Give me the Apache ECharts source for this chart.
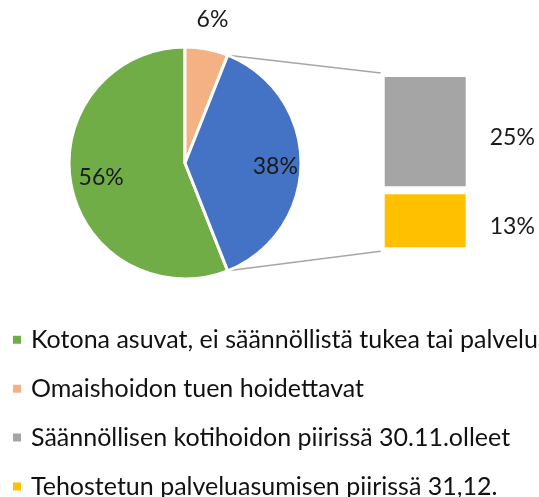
<!DOCTYPE html>
<html>
<head>
<meta charset="utf-8">
<script src="https://cdn.jsdelivr.net/npm/echarts@6/dist/echarts.min.js"></script>
<style>
  html, body { margin: 0; padding: 0; background: #fff; }
  #chart { width: 539px; height: 497px; }
</style>
</head>
<body>
<div id="chart"></div>
<script>
// pie part (the last slice is split into the bar)
const pieNames = ['Kotona asuvat, ei säännöllistä tukea tai palvelua', 'Omaishoidon tuen hoidettavat', 'Muut'];
const pieValues = [56, 6, 38];
const pieColors = ['#70ad47', '#f4b183', '#4472c4'];

// bar part, bottom to top
const barNames = ['Tehostetun palveluasumisen piirissä 31,12.', 'Säännöllisen kotihoidon piirissä 30.11.olleet'];
const barValues = [13, 25];
const barColors = ['#ffc000', '#a5a5a5'];

const legendNames = [pieNames[0], pieNames[1], barNames[1], barNames[0]];

const FONT = 'Lato, "Open Sans", sans-serif';
const cx = 185, cy = 163, radius = 116;
const gridLeft = 380.7, gridTop = 73, gridWidth = 89, gridHeight = 178.3;

const total = pieValues.reduce((a, b) => a + b, 0);
const deg = v => v / total * 360;
// Excel puts the split slice centred on the right side
const blueStart = 90 - deg(pieValues[2]) / 2;
const greenStart = blueStart - deg(pieValues[0] + pieValues[1]);
const startAngle = 90 - greenStart;

// how far out each pie label sits, relative to the default inside spot
const labelPush = [1.40, 2.40, 1.48];
const labelDrop = [-1, 0, 4];

const chart = echarts.init(document.getElementById('chart'));

const barMax = barValues.reduce((a, b) => a + b, 0);

chart.setOption({
  animation: false,
  textStyle: { fontFamily: FONT },
  legend: {
    orient: 'vertical',
    left: 11,
    bottom: -2,
    padding: 0,
    itemWidth: 10,
    itemHeight: 10,
    itemGap: 23.9,
    icon: 'rect',
    data: legendNames,
    textStyle: {
      fontFamily: FONT,
      fontSize: 25,
      lineHeight: 22,
      color: '#111',
      padding: [0, 0, 0, 4]
    }
  },
  grid: {
    left: gridLeft,
    top: gridTop,
    width: gridWidth,
    height: gridHeight
  },
  xAxis: {
    type: 'category',
    data: [''],
    show: false
  },
  yAxis: {
    type: 'value',
    min: 0,
    max: barMax,
    show: false
  },
  series: [
    {
      type: 'pie',
      center: [cx, cy],
      radius: [0, radius],
      startAngle: startAngle,
      clockwise: true,
      silent: true,
      data: pieNames.map((n, i) => ({
        name: n,
        value: pieValues[i],
        itemStyle: { color: pieColors[i] }
      })),
      itemStyle: { borderColor: '#fff', borderWidth: 3 },
      label: {
        show: true,
        position: 'inside',
        formatter: p => p.value + '%',
        fontFamily: FONT,
        fontSize: 23,
        color: '#1a1a1a'
      },
      labelLine: { show: false },
      labelLayout: function (params) {
        const r = params.labelRect;
        const lx = r.x + r.width / 2;
        const ly = r.y + r.height / 2;
        const k = labelPush[params.dataIndex];
        return {
          x: cx + (lx - cx) * k,
          y: cy + (ly - cy) * k + labelDrop[params.dataIndex],
          align: 'center',
          verticalAlign: 'middle'
        };
      }
    }
  ].concat(barNames.map((n, i) => ({
    type: 'bar',
    name: n,
    stack: 'muut',
    barWidth: '100%',
    silent: true,
    data: [barValues[i]],
    itemStyle: { color: barColors[i], borderColor: '#fff', borderWidth: 4 },
    label: {
      show: true,
      position: 'right',
      distance: 20,
      offset: [0, 6],
      formatter: p => p.value + '%',
      fontFamily: FONT,
      fontSize: 23,
      color: '#1a1a1a'
    }
  })))
});

// connector lines from the split slice to the bar
const toRad = a => a * Math.PI / 180;
const onCircle = a => [cx + radius * Math.sin(toRad(a)), cy - radius * Math.cos(toRad(a))];
const p1 = onCircle(blueStart);
const p2 = onCircle(blueStart + deg(pieValues[2]));
const yTop = chart.convertToPixel({ yAxisIndex: 0 }, barMax);
const yBottom = chart.convertToPixel({ yAxisIndex: 0 }, 0);

chart.setOption({
  graphic: [
    {
      type: 'line',
      shape: { x1: p1[0], y1: p1[1], x2: gridLeft, y2: yTop },
      style: { stroke: '#a6a6a6', lineWidth: 1.5 },
      z: 0
    },
    {
      type: 'line',
      shape: { x1: p2[0], y1: p2[1], x2: gridLeft, y2: yBottom },
      style: { stroke: '#a6a6a6', lineWidth: 1.5 },
      z: 0
    }
  ]
});
</script>
</body>
</html>
